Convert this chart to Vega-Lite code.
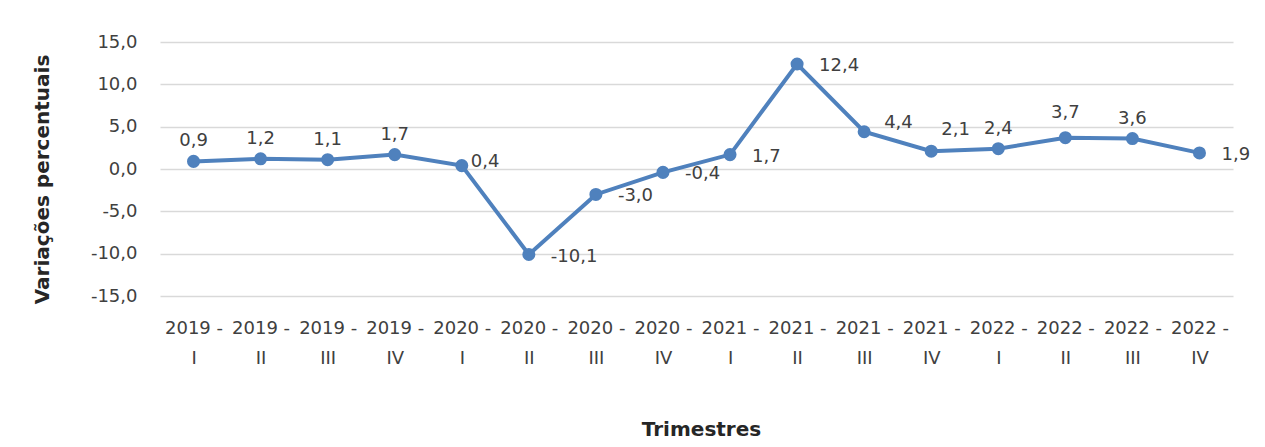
{
  "$schema": "https://vega.github.io/schema/vega-lite/v6.json",
  "autosize": {"type": "none"},
  "padding": {"left": 160, "top": 42, "right": 32, "bottom": 151},
  "width": 1073,
  "height": 254,
  "background": "white",
  "config": {
    "font": "DejaVu Sans",
    "view": {"stroke": null},
    "axis": {"labelFont": "DejaVu Sans", "titleFont": "DejaVu Sans"}
  },
  "data": {
    "values": [
      {"t": "2019 - I", "v": 0.9},
      {"t": "2019 - II", "v": 1.2},
      {"t": "2019 - III", "v": 1.1},
      {"t": "2019 - IV", "v": 1.7},
      {"t": "2020 - I", "v": 0.4},
      {"t": "2020 - II", "v": -10.1},
      {"t": "2020 - III", "v": -3.0},
      {"t": "2020 - IV", "v": -0.4},
      {"t": "2021 - I", "v": 1.7},
      {"t": "2021 - II", "v": 12.4},
      {"t": "2021 - III", "v": 4.4},
      {"t": "2021 - IV", "v": 2.1},
      {"t": "2022 - I", "v": 2.4},
      {"t": "2022 - II", "v": 3.7},
      {"t": "2022 - III", "v": 3.6},
      {"t": "2022 - IV", "v": 1.9}
    ]
  },
  "transform": [
    {"calculate": "replace(replace(format(datum.v, '.1f'), '.', ','), '\u2212', '-')", "as": "lab"}
  ],
  "encoding": {
    "x": {
      "field": "t", "type": "ordinal", "sort": null,
      "scale": {"paddingInner": 0, "paddingOuter": 0.5},
      "axis": {
        "title": "Trimestres",
        "titleFontWeight": "bold", "titleFontSize": 20, "titleColor": "#262626",
        "titlePadding": 52, "titleX": 541,
        "labelAngle": 0, "labelFontSize": 18, "labelColor": "#404040",
        "labelPadding": 23, "labelLineHeight": 30,
        "labelExpr": "[split(datum.value, ' - ')[0] + ' -', split(datum.value, ' - ')[1]]",
        "ticks": false, "domain": false, "grid": false
      }
    },
    "y": {
      "field": "v", "type": "quantitative",
      "scale": {"domain": [-15, 15], "nice": false},
      "axis": {
        "title": "Variações  percentuais",
        "titleFontWeight": "bold", "titleFontSize": 20, "titleColor": "#262626",
        "titlePadding": 38, "titleY": 137,
        "values": [-15, -10, -5, 0, 5, 10, 15],
        "labelExpr": "replace(replace(format(datum.value, '.1f'), '.', ','), '\u2212', '-')",
        "labelFontSize": 18, "labelColor": "#404040", "labelPadding": 23,
        "ticks": false, "domain": false,
        "gridColor": "#d9d9d9", "gridWidth": 1.3
      }
    }
  },
  "layer": [
    {"mark": {"type": "line", "color": "#4F81BD", "strokeWidth": 4}},
    {"mark": {"type": "point", "filled": true, "color": "#4F81BD", "size": 170, "opacity": 1}},
    {
      "transform": [{"filter": {"field": "t", "oneOf": ["2019 - I", "2019 - II", "2019 - III", "2019 - IV", "2022 - I", "2022 - III"]}}],
      "mark": {"type": "text", "dy": -20, "fontSize": 18, "color": "#404040", "align": "center"},
      "encoding": {"text": {"field": "lab"}}
    },
    {
      "transform": [{"filter": {"field": "t", "equal": "2022 - II"}}],
      "mark": {"type": "text", "dy": -25, "fontSize": 18, "color": "#404040", "align": "center"},
      "encoding": {"text": {"field": "lab"}}
    },
    {
      "transform": [{"filter": {"field": "t", "equal": "2021 - III"}}],
      "mark": {"type": "text", "dx": 20, "dy": -9, "fontSize": 18, "color": "#404040", "align": "left"},
      "encoding": {"text": {"field": "lab"}}
    },
    {
      "transform": [{"filter": {"field": "t", "equal": "2021 - IV"}}],
      "mark": {"type": "text", "dx": 10, "dy": -21, "fontSize": 18, "color": "#404040", "align": "left"},
      "encoding": {"text": {"field": "lab"}}
    },
    {
      "transform": [{"filter": {"field": "t", "oneOf": ["2020 - II", "2020 - III", "2020 - IV", "2021 - I", "2021 - II", "2022 - IV"]}}],
      "mark": {"type": "text", "dx": 22, "dy": 2, "fontSize": 18, "color": "#404040", "align": "left"},
      "encoding": {"text": {"field": "lab"}}
    },
    {
      "transform": [{"filter": {"field": "t", "equal": "2020 - I"}}],
      "mark": {"type": "text", "dx": 9, "dy": -4, "fontSize": 18, "color": "#404040", "align": "left"},
      "encoding": {"text": {"field": "lab"}}
    }
  ]
}
